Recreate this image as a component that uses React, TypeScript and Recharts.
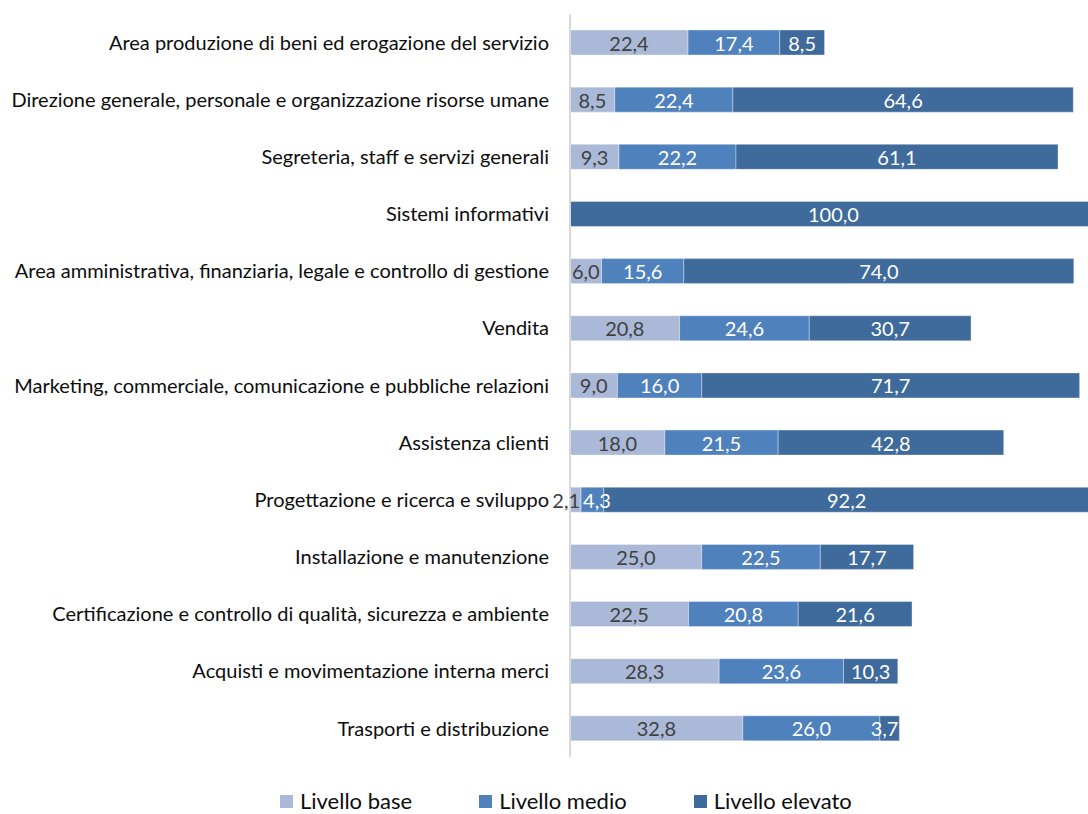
import { BarChart, Bar, XAxis, YAxis, LabelList } from "recharts";

const categories = [
  "Area produzione di beni ed erogazione del servizio",
  "Direzione generale, personale e organizzazione risorse umane",
  "Segreteria, staff e servizi generali",
  "Sistemi informativi",
  "Area amministrativa, finanziaria, legale e controllo di gestione",
  "Vendita",
  "Marketing, commerciale, comunicazione e pubbliche relazioni",
  "Assistenza clienti",
  "Progettazione e ricerca e sviluppo",
  "Installazione e manutenzione",
  "Certificazione e controllo di qualità, sicurezza e ambiente ",
  "Acquisti e movimentazione interna merci",
  "Trasporti e distribuzione",
];

const base = [22.4, 8.5, 9.3, 0, 6.0, 20.8, 9.0, 18.0, 2.1, 25.0, 22.5, 28.3, 32.8];
const medio = [17.4, 22.4, 22.2, 0, 15.6, 24.6, 16.0, 21.5, 4.3, 22.5, 20.8, 23.6, 26.0];
const elevato = [8.5, 64.6, 61.1, 100.0, 74.0, 30.7, 71.7, 42.8, 92.2, 17.7, 21.6, 10.3, 3.7];

const series = [
  { key: "base", name: "Livello base", color: "#aab9d8", text: "#404040", overflow: "end" },
  { key: "medio", name: "Livello medio", color: "#4f81bd", text: "#ffffff", overflow: "start" },
  { key: "elevato", name: "Livello elevato", color: "#3f6a9c", text: "#ffffff", overflow: "end" },
];

const data = categories.map((name, i) => ({
  name,
  base: base[i],
  medio: medio[i],
  elevato: elevato[i],
}));

const FONT = "Lato, 'Open Sans', sans-serif";
const LABEL_SIZE = 20;

const fmt = (v: any) => (v ? Number(v).toFixed(1).replace(".", ",") : "");

// value label: centred, but pinned to one edge when the segment is too narrow
function makeLabel(fill: string, overflow: string) {
  return (props: any) => {
    const { x, y, width, height, value } = props;
    const txt = fmt(value);
    if (!txt) return null;
    const textW = txt.length * LABEL_SIZE * 0.5;
    let tx = x + width / 2;
    let anchor: "middle" | "start" | "end" = "middle";
    if (width < textW) {
      if (overflow === "end") {
        tx = x + width - 1;
        anchor = "end";
      } else {
        tx = x + 2;
        anchor = "start";
      }
    }
    return (
      <text
        x={tx}
        y={y + height / 2}
        textAnchor={anchor}
        dominantBaseline="central"
        fill={fill}
        fontSize={LABEL_SIZE}
        fontFamily={FONT}
      >
        {txt}
      </text>
    );
  };
}

export default function App() {
  return (
    <div
      style={{
        position: "fixed",
        top: 8,
        left: 8,
        width: 1080,
        height: 806,
        overflow: "hidden",
        fontFamily: FONT,
        background: "#fff",
      }}
    >
      <BarChart
        width={1089}
        height={770}
        data={data}
        layout="vertical"
        margin={{ top: 6, right: 0, left: 0, bottom: 21 }}
      >
        <XAxis type="number" domain={[0, 100]} hide />
        <YAxis
          type="category"
          dataKey="name"
          width={562}
          interval={0}
          tickLine={false}
          tickSize={8}
          tickMargin={13}
          axisLine={{ stroke: "#d9d9d9", strokeWidth: 2 }}
          tick={{ fill: "#0d0d0d", fontSize: 20, fontFamily: FONT }}
        />
        {series.map((s) => (
          <Bar
            key={s.key}
            dataKey={s.key}
            name={s.name}
            stackId="a"
            fill={s.color}
            barSize={25}
            stroke="#ffffff"
            strokeOpacity={0.35}
            strokeWidth={1}
            isAnimationActive={false}
          >
            <LabelList dataKey={s.key} content={makeLabel(s.text, s.overflow)} />
          </Bar>
        ))}
      </BarChart>
      <div
        style={{
          position: "absolute",
          top: 782,
          left: 272,
          display: "flex",
          gap: 67,
          fontSize: 22,
          lineHeight: "22px",
          color: "#0d0d0d",
        }}
      >
        {series.map((s) => (
          <div key={s.key} style={{ display: "flex", alignItems: "center" }}>
            <span
              style={{
                display: "inline-block",
                width: 13,
                height: 13,
                background: s.color,
                marginRight: 7,
              }}
            />
            {s.name}
          </div>
        ))}
      </div>
    </div>
  );
}
